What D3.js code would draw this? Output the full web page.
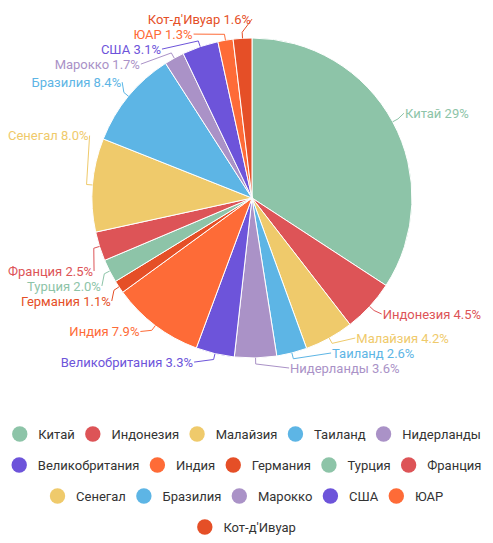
<!DOCTYPE html>
<html>
<head>
<meta charset="utf-8">
<script src="https://cdn.jsdelivr.net/npm/d3@7"></script>
<style>
  body { margin: 0; background: #fff; }
  svg { font-family: Roboto, "Noto Sans", sans-serif; }
</style>
</head>
<body>
<svg id="chart" width="493" height="543"></svg>
<script>
const countries = ["Китай", "Индонезия", "Малайзия", "Таиланд", "Нидерланды",
  "Великобритания", "Индия", "Германия", "Турция", "Франция",
  "Сенегал", "Бразилия", "Марокко", "США", "ЮАР", "Кот-д'Ивуар"];
const shares = [29, 4.5, 4.2, 2.6, 3.6, 3.3, 7.9, 1.1, 2.0, 2.5, 8.0, 8.4, 1.7, 3.1, 1.3, 1.6];
const palette = ["#8dc4a8", "#dd5457", "#efca6b", "#5db5e5", "#aa92c7", "#6d54da", "#fe6b37", "#e54f27"];

const width = 493, cx = 252, cy = 198, r = 160;
const svg = d3.select("#chart");

const data = countries.map((name, i) => ({name: name, value: shares[i]}));
const color = d3.scaleOrdinal().domain(countries).range(palette);
const pie = d3.pie().sort(null).value(d => d.value);
const arcs = pie(data);
const arc = d3.arc().innerRadius(0).outerRadius(r);

const g = svg.append("g").attr("transform", `translate(${cx},${cy})`);

g.selectAll("path.slice")
  .data(arcs)
  .join("path")
  .attr("class", "slice")
  .attr("d", arc)
  .attr("fill", d => color(d.data.name))
  .attr("stroke", "#fff")
  .attr("stroke-width", 1);

// outside labels, pushed apart on each side
const fmt = d3.format(".2r");
const R = 174, margin = 8, h = 15;
const labels = arcs.map(d => {
  const a = (d.startAngle + d.endAngle) / 2;
  return {d: d, a: a, side: Math.sin(a) >= 0 ? 1 : -1, y: -Math.cos(a) * R};
});

const lineG = g.append("g");
const texts = g.append("g").selectAll("text")
  .data(labels)
  .join("text")
  .attr("dy", "0.35em")
  .attr("text-anchor", l => l.side > 0 ? "start" : "end")
  .attr("fill", l => color(l.d.data.name))
  .style("font-size", "13px")
  .text(l => `${l.d.data.name} ${fmt(l.d.data.value)}%`)
  .each(function(l) { l.w = this.getComputedTextLength(); });

function layoutSide(list, top, bottom) {
  list.sort((a, b) => a.y - b.y);
  let last = -Infinity, total = 0;
  list.forEach(l => {
    const s = Math.max(0, last + h - l.y);
    l.y += s; total += s; last = l.y;
  });
  list.forEach(l => { l.y -= total / list.length; });
  let lim = bottom;
  for (let i = list.length - 1; i >= 0; i--) {
    if (list[i].y > lim) list[i].y = lim;
    lim = list[i].y - h;
  }
  lim = top;
  for (let i = 0; i < list.length; i++) {
    if (list[i].y < lim) list[i].y = lim;
    lim = list[i].y + h;
  }
}

// slide a label along the circle if it would run past the page edge,
// then push its neighbours further out so nothing collides
function fitSide(list) {
  list.forEach(l => {
    const room = l.side > 0 ? width - cx - margin - l.w - 1 : cx - margin - l.w - 1;
    const dx = Math.sqrt(Math.max(0, R * R - l.y * l.y));
    if (dx > room) l.y = (l.y < 0 ? -1 : 1) * Math.sqrt(R * R - room * room);
  });
  const lower = list.filter(l => l.y >= 0).sort((a, b) => a.y - b.y);
  for (let i = 1; i < lower.length; i++) lower[i].y = Math.max(lower[i].y, lower[i - 1].y + h);
  const upper = list.filter(l => l.y < 0).sort((a, b) => b.y - a.y);
  for (let i = 1; i < upper.length; i++) upper[i].y = Math.min(upper[i].y, upper[i - 1].y - h);
}

[1, -1].forEach(s => {
  const side = labels.filter(l => l.side === s);
  layoutSide(side, -187, 170);
  fitSide(side);
});

labels.forEach(l => {
  l.x = l.side * Math.sqrt(Math.max(0, R * R - l.y * l.y));
});

lineG.selectAll("polyline")
  .data(labels)
  .join("polyline")
  .attr("points", l => {
    const p0 = [Math.sin(l.a) * r, -Math.cos(l.a) * r];
    const p1 = [Math.sin(l.a) * (r + 6), -Math.cos(l.a) * (r + 6)];
    return [p0, p1, [l.x, l.y]].map(p => p.join(",")).join(" ");
  })
  .attr("fill", "none")
  .attr("stroke", l => color(l.d.data.name))
  .attr("stroke-width", 1);

texts
  .attr("x", l => l.x + l.side * 1)
  .attr("y", l => l.y);

// legend, wrapped rows centred under the pie
const legend = svg.append("g");
const items = legend.selectAll("g")
  .data(countries)
  .join("g");
items.append("circle")
  .attr("r", 7.7)
  .attr("fill", d => color(d));
items.append("text")
  .attr("x", 18.6)
  .attr("dy", "0.35em")
  .attr("fill", "#333")
  .style("font-size", "13px")
  .text(d => d);

const gap = 10.3, maxRow = 480;
const rows = [];
let row = null;
items.each(function(d) {
  const w = 7.7 + 18.6 + this.querySelector("text").getComputedTextLength();
  if (!row || row.width + gap + w > maxRow) {
    row = {width: 0, list: []};
    rows.push(row);
  }
  if (row.list.length) row.width += gap;
  row.list.push({node: this, offset: row.width});
  row.width += w;
});
rows.forEach((rw, i) => {
  const left = 246.5 - rw.width / 2;
  rw.list.forEach(it => {
    d3.select(it.node).attr("transform", `translate(${left + it.offset + 7.7},${434 + i * 31})`);
  });
});
</script>
</body>
</html>
